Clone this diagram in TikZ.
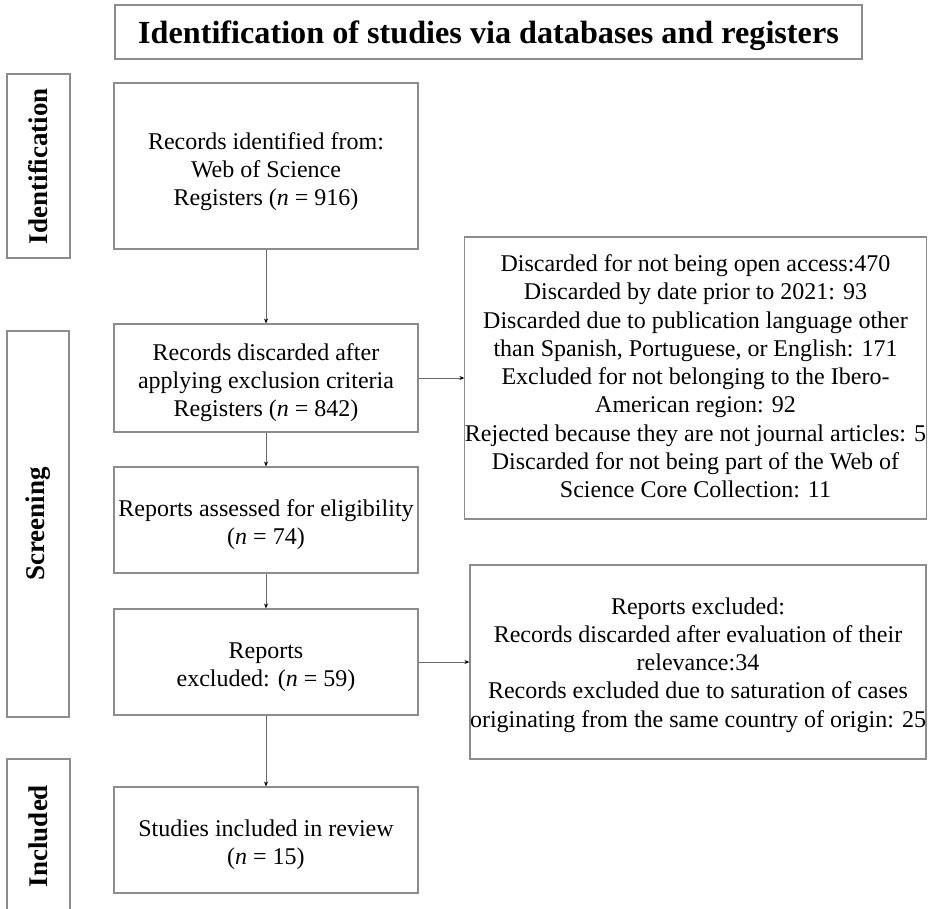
\documentclass[tikz,border=0pt]{standalone}
\usepackage{fontspec}
\setmainfont{Liberation Serif}
\usetikzlibrary{arrows.meta}
\definecolor{boxgray}{RGB}{140,140,140}
\definecolor{arrgray}{RGB}{105,105,105}
\newcommand{\mylines}[2][5pt]{\raisebox{-#1}[\height][\depth]{\begin{tabular}{@{}c@{}}#2\end{tabular}}}
\begin{document}
\begin{tikzpicture}[x=1pt,y=-1pt,
  box/.style={draw=boxgray, line width=1.1pt, inner sep=0pt, align=center,
    font=\fontsize{24}{28.3}\selectfont},
  side/.style={draw=boxgray, line width=1.1pt, inner sep=0pt, rotate=90,
    font=\fontsize{27}{30}\selectfont\bfseries},
  arr/.style={draw=arrgray, line width=0.9pt, -{Stealth[length=5pt,width=4pt,color=black]}}]
\useasboundingbox (0,0) rectangle (932,908);
\clip (0,0) rectangle (932,908);
\fill[white] (0,0) rectangle (932,908);

% title
\node[box, minimum width=747pt, minimum height=54pt] (title) at (488.5,32)
  {\fontsize{32.2}{33}\selectfont\bfseries\raisebox{-4pt}[\height][\depth]{Identification of studies via databases and registers}};

% side labels
\node[side, minimum width=184pt, minimum height=63pt] (sid) at (38.5,166) {Identification};
\node[side, minimum width=386pt, minimum height=62pt] (sscr) at (38,524) {Screening};
\node[side, minimum width=154pt, minimum height=63pt] (sinc) at (38.5,836) {Included};

% main column
\node[box, minimum width=304pt, minimum height=166pt] (b1) at (266,166)
  {\mylines[6pt]{Records identified from:\\ Web of Science\\ Registers (\textit{n} = 916)}};
\node[box, minimum width=304pt, minimum height=108pt] (b2) at (266,378)
  {\mylines{Records discarded after\\ applying exclusion criteria\\ Registers (\textit{n} = 842)}};
\node[box, minimum width=304pt, minimum height=106pt] (b3) at (266,520)
  {\mylines{Reports assessed for eligibility\\ (\textit{n} = 74)}};
\node[box, minimum width=304pt, minimum height=106pt] (b4) at (266,662)
  {\mylines{Reports\\ excluded: (\textit{n} = 59)}};
\node[box, minimum width=304pt, minimum height=106pt] (b5) at (266,840)
  {\mylines{Studies included in review\\ (\textit{n} = 15)}};

% right column
\node[box, minimum width=461pt, minimum height=282pt] (r1) at (695.5,378)
  {\mylines[1pt]{Discarded for not being open access:470\\
   Discarded by date prior to 2021: 93\\
   Discarded due to publication language other\\
   than Spanish, Portuguese, or English: 171\\
   Excluded for not belonging to the Ibero-\\
   American region: 92\\
   Rejected because they are not journal articles: 5\\
   Discarded for not being part of the Web of\\
   Science Core Collection: 11}};
\node[box, minimum width=456pt, minimum height=194pt] (r2) at (698,662)
  {\mylines[3pt]{Reports excluded:\\
   Records discarded after evaluation of their\\
   relevance:34\\
   Records excluded due to saturation of cases\\
   originating from the same country of origin: 25}};

% connectors
\draw[arr] (b1.south) -- (b2.north);
\draw[arr] (b2.south) -- (b3.north);
\draw[arr] (b3.south) -- (b4.north);
\draw[arr] (b4.south) -- (b5.north);
\draw[arr] (b2.east) -- (r1.west);
\draw[arr] (b4.east) -- (r2.west);
\end{tikzpicture}
\end{document}
